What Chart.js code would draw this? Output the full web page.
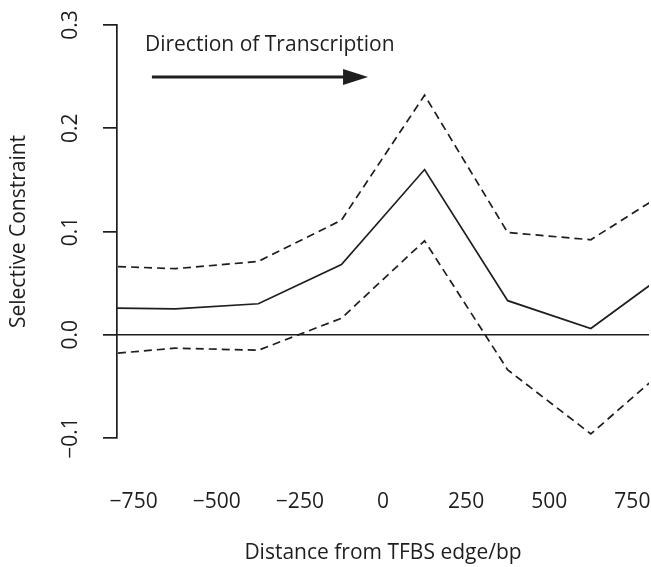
<!DOCTYPE html>
<html>
<head>
<meta charset="utf-8">
<script src="https://cdn.jsdelivr.net/npm/chart.js@4/dist/chart.umd.min.js"></script>
<style>
  html, body { margin: 0; padding: 0; background: #fff; }
  canvas { display: block; }
</style>
</head>
<body>
<canvas id="constraintChart" width="651" height="567"></canvas>
<script>
// distance from TFBS edge (bp), centres of the 250 bp windows
const positions = [-875, -625, -375, -125, 125, 375, 625, 875];
const constraint = [0.026, 0.025, 0.030, 0.068, 0.160, 0.033, 0.006, 0.065];
const upperBound = [0.067, 0.064, 0.071, 0.111, 0.232, 0.099, 0.092, 0.143];
const lowerBound = [-0.020, -0.013, -0.015, 0.016, 0.091, -0.034, -0.096, -0.026];
const zeroLine = [0, 0];

const xTicks = [-750, -500, -250, 0, 250, 500, 750];
const yTicks = [-0.1, 0.0, 0.1, 0.2, 0.3];

// annotation, in data units
const noteText = "Direction of Transcription";
const noteAt = [-716, 0.2806];
const arrowFrom = [-695, 0.2496];
const arrowTo = [-45, 0.2496];

const ink = "#1e1e1e";
const fontFamily = "'Open Sans', 'DejaVu Sans', sans-serif";
const fontSize = 21;

const minus = (s) => String(s).replace("-", "\u2212");
const toPoints = (vals) => positions.map((p, i) => ({ x: p, y: vals[i] }));

const extras = {
  id: "extras",
  afterDraw(chart) {
    const { ctx, scales: { x, y } } = chart;
    ctx.save();
    ctx.fillStyle = ink;
    ctx.strokeStyle = ink;
    ctx.font = fontSize + "px " + fontFamily;

    // rotated y tick labels
    yTicks.forEach(v => {
      ctx.save();
      ctx.translate(71.5, y.getPixelForValue(v));
      ctx.rotate(-Math.PI / 2);
      ctx.textAlign = "center";
      ctx.textBaseline = "middle";
      ctx.fillText(minus(v.toFixed(1)), 0, 0);
      ctx.restore();
    });

    // annotation text
    ctx.textAlign = "left";
    ctx.textBaseline = "middle";
    ctx.fillText(noteText, x.getPixelForValue(noteAt[0]), y.getPixelForValue(noteAt[1]));

    // arrow
    const x0 = x.getPixelForValue(arrowFrom[0]);
    const x1 = x.getPixelForValue(arrowTo[0]);
    const ay = y.getPixelForValue(arrowFrom[1]);
    ctx.lineWidth = 3;
    ctx.beginPath();
    ctx.moveTo(x0, ay);
    ctx.lineTo(x1 - 20, ay);
    ctx.stroke();
    ctx.beginPath();
    ctx.moveTo(x1, ay);
    ctx.lineTo(x1 - 25, ay - 8);
    ctx.lineTo(x1 - 25, ay + 8);
    ctx.closePath();
    ctx.fill();
    ctx.restore();
  }
};

const lineStyle = {
  borderColor: ink,
  borderWidth: 1.7,
  pointRadius: 0,
  tension: 0,
  fill: false
};

new Chart(document.getElementById("constraintChart"), {
  type: "line",
  data: {
    datasets: [
      { ...lineStyle, label: "Upper", data: toPoints(upperBound), borderDash: [8, 5] },
      { ...lineStyle, label: "Constraint", data: toPoints(constraint) },
      { ...lineStyle, label: "Lower", data: toPoints(lowerBound), borderDash: [8, 5] },
      { ...lineStyle, label: "Zero", data: [{ x: -800, y: zeroLine[0] }, { x: 800, y: zeroLine[1] }] }
    ]
  },
  options: {
    responsive: false,
    animation: false,
    devicePixelRatio: 1,
    layout: { padding: { top: 25, right: 2, left: 0, bottom: 0 } },
    plugins: { legend: { display: false }, tooltip: { enabled: false } },
    scales: {
      x: {
        type: "linear",
        min: -800,
        max: 800,
        afterBuildTicks: (s) => { s.ticks = xTicks.map(v => ({ value: v })); },
        afterFit: (s) => { s.height = 129; s.paddingRight = 0; s.paddingLeft = 0; },
        grid: { display: false, drawTicks: true, tickLength: 51 },
        border: { display: false },
        ticks: {
          color: ink,
          padding: 0,
          maxRotation: 0,
          font: { family: fontFamily, size: fontSize },
          callback: (v) => minus(v)
        },
        title: {
          display: true,
          text: "Distance from TFBS edge/bp",
          color: ink,
          font: { family: fontFamily, size: fontSize, lineHeight: 1 },
          padding: { top: 0, bottom: 3 }
        }
      },
      y: {
        min: -0.1,
        max: 0.3,
        afterBuildTicks: (s) => { s.ticks = yTicks.map(v => ({ value: v })); },
        afterFit: (s) => { s.width = 117; },
        grid: { drawOnChartArea: false, tickLength: 14, color: ink, lineWidth: 1.7 },
        border: { display: true, color: ink, width: 1.7 },
        ticks: { display: false },
        title: {
          display: true,
          text: "Selective Constraint",
          color: ink,
          font: { family: fontFamily, size: fontSize, lineHeight: 1 },
          padding: { top: 9, bottom: 0 }
        }
      }
    }
  },
  plugins: [extras]
});
</script>
</body>
</html>
